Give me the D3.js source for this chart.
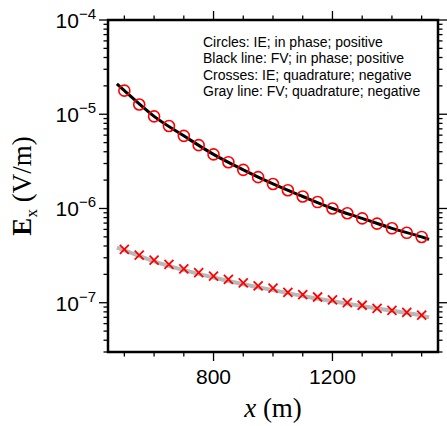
<!DOCTYPE html>
<html>
<head>
<meta charset="utf-8">
<script src="https://cdn.jsdelivr.net/npm/d3@7"></script>
<style>
  body { margin: 0; background: #fff; }
  svg { display: block; }
</style>
</head>
<body>
<div class="viewbox"></div>
<script>
  // offsets along the profile (m)
  const offsets = [500, 550, 600, 650, 700, 750, 800, 850, 900, 950, 1000,
    1050, 1100, 1150, 1200, 1250, 1300, 1350, 1400, 1450, 1500]

  // circles: IE, in phase, positive
  const iePhase = [1.78e-5, 1.27e-5, 9.5e-6, 7.5e-6, 5.9e-6, 4.7e-6, 3.75e-6,
    3.1e-6, 2.57e-6, 2.15e-6, 1.82e-6, 1.56e-6, 1.34e-6, 1.17e-6, 1.0e-6,
    8.9e-7, 7.85e-7, 6.9e-7, 6.16e-7, 5.52e-7, 4.99e-7]

  // crosses: IE, quadrature, negative
  const ieQuad = [3.68e-7, 3.2e-7, 2.83e-7, 2.55e-7, 2.29e-7, 2.09e-7, 1.91e-7,
    1.77e-7, 1.62e-7, 1.51e-7, 1.43e-7, 1.29e-7, 1.22e-7, 1.15e-7, 1.07e-7,
    1.0e-7, 9.4e-8, 8.7e-8, 8.3e-8, 7.9e-8, 7.4e-8]

  // FV curves (lines)
  const fvX = [475, 500, 600, 700, 800, 900, 1000, 1100, 1200, 1300, 1400, 1500, 1525]
  const fvPhase = [2.1e-5, 1.78e-5, 9.5e-6, 5.9e-6, 3.75e-6, 2.57e-6, 1.82e-6,
    1.34e-6, 1.0e-6, 7.85e-7, 6.16e-7, 4.99e-7, 4.7e-7]
  const fvQuad = [3.85e-7, 3.6e-7, 2.75e-7, 2.22e-7, 1.85e-7, 1.57e-7, 1.36e-7,
    1.18e-7, 1.04e-7, 9.2e-8, 8.2e-8, 7.3e-8, 7.0e-8]

  const legendLines = ["Circles: IE; in phase; positive",
    "Black line: FV; in phase; positive",
    "Crosses: IE; quadrature; negative",
    "Gray line: FV; quadrature; negative"]

  const xMajor = [800, 1200]
  const yExps = [-4, -5, -6, -7]

  const W = 447, H = 426
  const m = { top: 20, right: 9, bottom: 74, left: 108 }

  let svg = d3.select(".viewbox")
    .append("svg")
    .attr("width", W)
    .attr("height", H)

  let x = d3.scaleLinear().domain([445, 1555]).range([m.left, W - m.right])
  let y = d3.scaleLog().domain([3e-8, 1e-4]).range([H - m.bottom, m.top])

  // frame edges (note: "top" clashes with window.top, so prefix them)
  const fL = m.left, fR = W - m.right, fT = m.top, fB = H - m.bottom
  const sans = "'Liberation Sans', Arial, Helvetica, sans-serif"
  const serif = "'Liberation Serif', 'Times New Roman', serif"

  // ticks on all four sides, pointing out
  const isDecade = v => Math.abs(Math.log10(v) - Math.round(Math.log10(v))) < 1e-6
  let yt = y.ticks().filter(v => v >= 3e-8 * 0.999 && v <= 1e-4 * 1.001)
  let xt = d3.range(500, 1501, 100)

  let ticks = svg.append("g").attr("stroke", "#000").attr("stroke-width", 1.3)
  yt.forEach(v => {
    let len = isDecade(v) ? 9 : 4.5
    let py = y(v)
    ticks.append("line").attr("x1", fL - len).attr("x2", fL).attr("y1", py).attr("y2", py)
    ticks.append("line").attr("x1", fR).attr("x2", fR + len).attr("y1", py).attr("y2", py)
  })
  xt.forEach(v => {
    let len = xMajor.includes(v) ? 9 : 4.5
    let px = x(v)
    ticks.append("line").attr("x1", px).attr("x2", px).attr("y1", fB).attr("y2", fB + len)
    ticks.append("line").attr("x1", px).attr("x2", px).attr("y1", fT - len).attr("y2", fT)
  })

  // y tick labels 10^n
  yExps.forEach(e => {
    let t = svg.append("text")
      .attr("x", fL - 12)
      .attr("y", y(Math.pow(10, e)) + 8)
      .attr("text-anchor", "end")
      .style("font-family", sans)
      .style("font-size", "21px")
    t.append("tspan").text("10")
    t.append("tspan").attr("dy", -9).style("font-size", "15px").text("\u2212" + Math.abs(e))
  })

  // x tick labels
  xMajor.forEach(v => {
    svg.append("text")
      .attr("x", x(v))
      .attr("y", 384)
      .attr("text-anchor", "middle")
      .style("font-family", sans)
      .style("font-size", "21px")
      .text(v)
  })

  // lines first, markers on top
  let line = d3.line()
    .x(d => x(d[0]))
    .y(d => y(d[1]))
    .curve(d3.curveMonotoneX)

  svg.append("path")
    .datum(fvX.map((v, i) => [v, fvQuad[i]]))
    .attr("d", line)
    .attr("fill", "none")
    .attr("stroke", "#b8b8b8")
    .attr("stroke-width", 4)

  svg.append("path")
    .datum(fvX.map((v, i) => [v, fvPhase[i]]))
    .attr("d", line)
    .attr("fill", "none")
    .attr("stroke", "#000")
    .attr("stroke-width", 3)

  svg.append("g").selectAll("circle")
    .data(offsets.map((v, i) => [v, iePhase[i]]))
    .enter()
    .append("circle")
    .attr("cx", d => x(d[0]))
    .attr("cy", d => y(d[1]))
    .attr("r", 5.5)
    .attr("fill", "none")
    .attr("stroke", "#ff0000")
    .attr("stroke-width", 1.6)

  const c = 4.5
  svg.append("g").selectAll("path")
    .data(offsets.map((v, i) => [v, ieQuad[i]]))
    .enter()
    .append("path")
    .attr("d", d => {
      let px = x(d[0]), py = y(d[1])
      return `M${px - c},${py - c}L${px + c},${py + c}M${px - c},${py + c}L${px + c},${py - c}`
    })
    .attr("fill", "none")
    .attr("stroke", "#ff0000")
    .attr("stroke-width", 1.8)

  // frame
  svg.append("rect")
    .attr("x", fL).attr("y", fT)
    .attr("width", fR - fL).attr("height", fB - fT)
    .attr("fill", "none")
    .attr("stroke", "#000")
    .attr("stroke-width", 2.5)

  // legend text, top right
  svg.append("g").selectAll("text")
    .data(legendLines)
    .enter()
    .append("text")
    .attr("x", 203)
    .attr("y", (d, i) => 47 + i * 16.3)
    .style("font-family", sans)
    .style("font-size", "14px")
    .text(d => d)

  // axis titles
  let xTitle = svg.append("text")
    .attr("x", (fL + fR) / 2)
    .attr("y", 417)
    .attr("text-anchor", "middle")
    .style("font-family", serif)
    .style("font-size", "27px")
  xTitle.append("tspan").style("font-style", "italic").text("x")
  xTitle.append("tspan").text(" (m)")

  let yTitle = svg.append("text")
    .attr("transform", `translate(31,${(fT + fB) / 2}) rotate(-90)`)
    .attr("text-anchor", "middle")
    .style("font-family", serif)
    .style("font-size", "27px")
  yTitle.append("tspan").style("font-weight", "bold").text("E")
  yTitle.append("tspan").attr("dy", 6).style("font-size", "17px").text("x")
  yTitle.append("tspan").attr("dy", -6).text(" (V/m)")
</script>
</body>
</html>
